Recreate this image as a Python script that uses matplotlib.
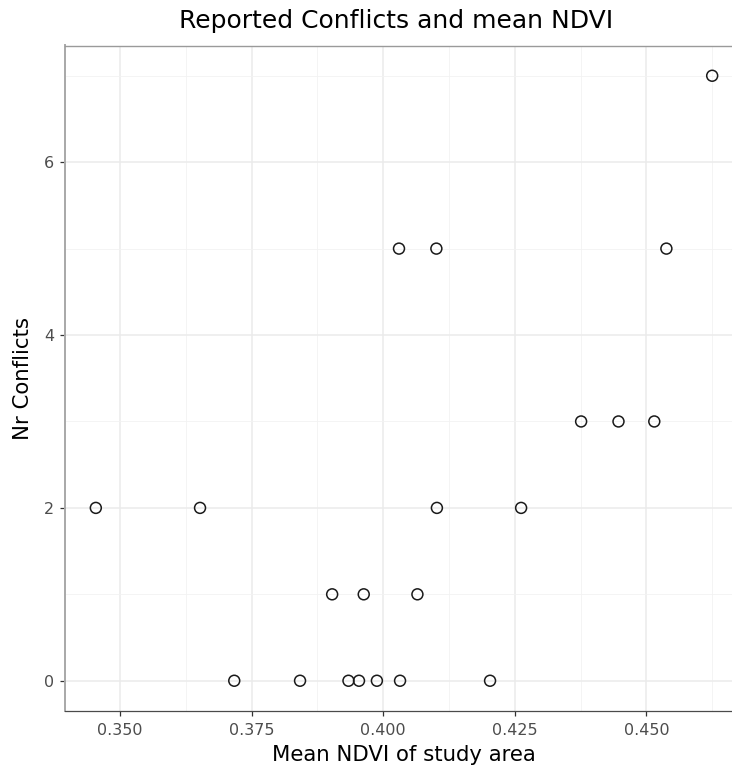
import matplotlib
matplotlib.use("Agg")
import matplotlib.pyplot as plt
from matplotlib.ticker import MultipleLocator

plt.rcParams['font.family'] = ['DejaVu Sans']

mean_ndvi = [0.3454, 0.3652, 0.4102, 0.4262,
             0.3903, 0.3963, 0.4065,
             0.3717, 0.3842, 0.3934, 0.3954, 0.3988, 0.4032, 0.4203,
             0.4030, 0.4101, 0.4538,
             0.4376, 0.4447, 0.4515,
             0.4625]
nr_conflicts = [2, 2, 2, 2,
                1, 1, 1,
                0, 0, 0, 0, 0, 0, 0,
                5, 5, 5,
                3, 3, 3,
                7]

x_ticks = [0.350, 0.375, 0.400, 0.425, 0.450]
x_tick_labels = ["0.350", "0.375", "0.400", "0.425", "0.450"]
y_ticks = [0, 2, 4, 6]
y_tick_labels = ["0", "2", "4", "6"]

W, H = 732, 767
fig = plt.figure(figsize=(W / 100, H / 100), dpi=100)
left, right, bottom, top = 65, 743, 711, 45.5
ax = fig.add_axes([left / W, (H - bottom) / H, (right - left) / W, (bottom - top) / H])

xr = max(mean_ndvi) - min(mean_ndvi)
ax.set_xlim(min(mean_ndvi) - 0.05 * xr, max(mean_ndvi) + 0.05 * xr)
yr = max(nr_conflicts) - min(nr_conflicts)
ax.set_ylim(min(nr_conflicts) - 0.05 * yr, max(nr_conflicts) + 0.05 * yr)

ax.set_xticks(x_ticks)
ax.set_xticklabels(x_tick_labels)
ax.set_yticks(y_ticks)
ax.set_yticklabels(y_tick_labels)
ax.xaxis.set_minor_locator(MultipleLocator(0.0125))
ax.yaxis.set_minor_locator(MultipleLocator(1))

ax.grid(which='major', color='#ebebeb', linewidth=1.1)
ax.grid(which='minor', color='#f2f2f2', linewidth=0.6)
ax.set_axisbelow(True)

ax.scatter(mean_ndvi, nr_conflicts, s=62, facecolors='none', edgecolors='#1a1a1a',
           linewidths=1.1, zorder=3)

ax.spines['right'].set_visible(False)
ax.spines['top'].set_color('#9a9a9a')
ax.spines['top'].set_linewidth(1.0)
ax.spines['left'].set_color('#a8a8a8')
ax.spines['left'].set_linewidth(1.4)
ax.spines['bottom'].set_color('#4a4a4a')
ax.spines['bottom'].set_linewidth(0.9)

ax.tick_params(which='major', length=3.5, width=0.9, color='#333333',
               labelcolor='#4d4d4d', labelsize=11.5)
ax.tick_params(axis='x', which='major', pad=5)
ax.tick_params(axis='y', which='major', pad=4.5)
ax.tick_params(which='minor', length=0)

ax.set_xlabel("Mean NDVI of study area", fontsize=15.3, color='black', labelpad=5)
ax.set_ylabel("Nr Conflicts", fontsize=15.3, color='black', labelpad=7.5)
fig.text(396 / W, 1 - 21 / H, "Reported Conflicts and mean NDVI", fontsize=18,
         ha='center', va='center', color='black')

fig.savefig("out.png", dpi=100)
